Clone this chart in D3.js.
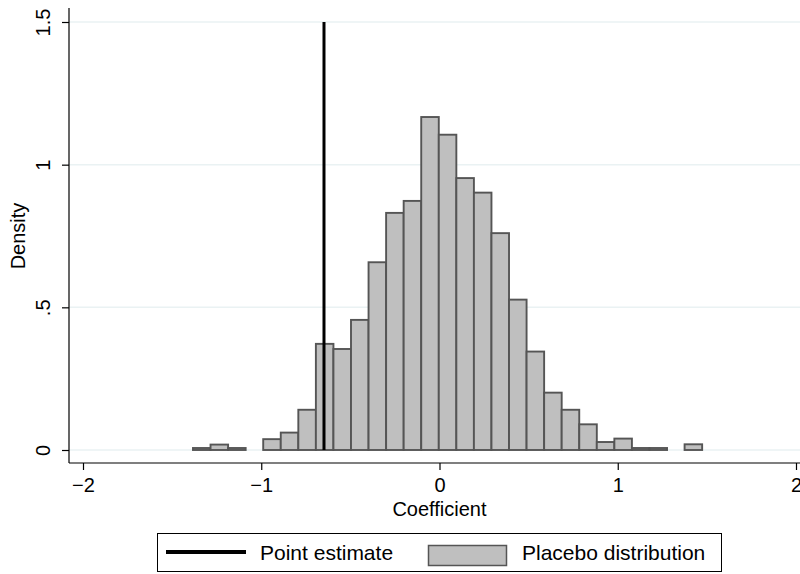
<!DOCTYPE html>
<html>
<head>
<meta charset="utf-8">
<script src="https://cdn.jsdelivr.net/npm/d3@7"></script>
<style>
  html, body { margin: 0; padding: 0; background: #fff; }
  svg { display: block; font-family: "Liberation Sans", Arial, Helvetica, sans-serif; }
</style>
</head>
<body>
<svg id="chart" width="800" height="574"></svg>
<script>
// ---- Data ----
const binLow = [-1.383, -1.2845, -1.186, -1.0875, -0.989, -0.8905, -0.792, -0.6935, -0.595, -0.4965,
                -0.398, -0.2995, -0.201, -0.1025, -0.004, 0.0945, 0.193, 0.2915, 0.39, 0.4885,
                0.587, 0.6855, 0.784, 0.8825, 0.981, 1.0795, 1.178, 1.2765, 1.375];
const binHigh = [-1.2845, -1.186, -1.0875, -0.989, -0.8905, -0.792, -0.6935, -0.595, -0.4965, -0.398,
                 -0.2995, -0.201, -0.1025, -0.004, 0.0945, 0.193, 0.2915, 0.39, 0.4885, 0.587,
                 0.6855, 0.784, 0.8825, 0.981, 1.0795, 1.178, 1.2765, 1.375, 1.4735];
const density = [0.007, 0.019, 0.007, 0, 0.038, 0.061, 0.141, 0.372, 0.354, 0.456,
                 0.658, 0.831, 0.873, 1.167, 1.105, 0.953, 0.902, 0.760, 0.527, 0.345,
                 0.201, 0.141, 0.090, 0.028, 0.040, 0.007, 0.007, 0, 0.020];
const pointEstimate = -0.648;
const xTicks = [-2, -1, 0, 1, 2];
const xTickLabels = ["\u22122", "\u22121", "0", "1", "2"];
const yTicks = [0, 0.5, 1, 1.5];
const yTickLabels = ["0", ".5", "1", "1.5"];
const xTitle = "Coefficient";
const yTitle = "Density";
const legendLabels = ["Point estimate", "Placebo distribution"];

// ---- Layout ----
const svg = d3.select("#chart");
const x = d3.scaleLinear().domain([-2, 2]).range([83, 796]);
const y = d3.scaleLinear().domain([0, 1.5]).range([450, 22]);
const axisLeftX = 69, axisBottomY = 463;

// grid lines
svg.append("g").selectAll("line").data(yTicks).join("line")
  .attr("x1", axisLeftX).attr("x2", 800)
  .attr("y1", d => y(d)).attr("y2", d => y(d))
  .attr("stroke", "#eaf2f3").attr("stroke-width", 1.5);

// bars
const bins = density.map((d, i) => ({lo: binLow[i], hi: binHigh[i], v: d})).filter(b => b.v > 0);
svg.append("g").selectAll("rect").data(bins).join("rect")
  .attr("x", d => x(d.lo))
  .attr("width", d => x(d.hi) - x(d.lo))
  .attr("y", d => y(d.v))
  .attr("height", d => y(0) - y(d.v))
  .attr("fill", "#bfbfbf")
  .attr("stroke", "#555555")
  .attr("stroke-width", 1.9);

// point estimate line
svg.append("line")
  .attr("x1", x(pointEstimate)).attr("x2", x(pointEstimate))
  .attr("y1", y(0)).attr("y2", y(1.5))
  .attr("stroke", "#000").attr("stroke-width", 3);

// y axis
const yAxis = d3.axisLeft(y).tickValues(yTicks).tickSize(7).tickFormat((d, i) => yTickLabels[i]);
const gy = svg.append("g").attr("transform", `translate(${axisLeftX},0)`).call(yAxis);
gy.select(".domain").attr("d", `M0,8V${axisBottomY}`).attr("stroke", "#000").attr("stroke-width", 1.2);
gy.selectAll(".tick line").attr("stroke", "#000").attr("stroke-width", 1.2);
gy.selectAll(".tick text")
  .attr("x", null).attr("dy", null)
  .attr("transform", "translate(-19,0) rotate(-90)")
  .attr("text-anchor", "middle")
  .attr("font-size", 20).attr("fill", "#000")
  .attr("font-family", "Liberation Sans, Arial, sans-serif");

// x axis
const xAxis = d3.axisBottom(x).tickValues(xTicks).tickSize(7).tickFormat((d, i) => xTickLabels[i]);
const gx = svg.append("g").attr("transform", `translate(0,${axisBottomY})`).call(xAxis);
gx.select(".domain").attr("d", `M${axisLeftX},0H800`).attr("stroke", "#000").attr("stroke-width", 1.2);
gx.selectAll(".tick line").attr("stroke", "#000").attr("stroke-width", 1.2);
gx.selectAll(".tick text")
  .attr("y", 29).attr("dy", null)
  .attr("font-size", 20).attr("fill", "#000")
  .attr("font-family", "Liberation Sans, Arial, sans-serif");

// axis titles
svg.append("text").attr("x", x(0)).attr("y", 516)
  .attr("text-anchor", "middle").attr("font-size", 20).text(xTitle);
svg.append("text").attr("transform", `translate(25,${y(0.75)}) rotate(-90)`)
  .attr("text-anchor", "middle").attr("font-size", 20).text(yTitle);

// legend
const lg = svg.append("g");
lg.append("rect").attr("x", 157.5).attr("y", 533.5).attr("width", 564).attr("height", 38)
  .attr("fill", "#fff").attr("stroke", "#000").attr("stroke-width", 1);
lg.append("line").attr("x1", 166).attr("x2", 246).attr("y1", 552).attr("y2", 552)
  .attr("stroke", "#000").attr("stroke-width", 4);
lg.append("text").attr("x", 260).attr("y", 560).attr("font-size", 21).text(legendLabels[0]);
lg.append("rect").attr("x", 428.5).attr("y", 545.5).attr("width", 78).attr("height", 20)
  .attr("fill", "#bfbfbf").attr("stroke", "#555555").attr("stroke-width", 1.5);
lg.append("text").attr("x", 522).attr("y", 560).attr("font-size", 21).text(legendLabels[1]);
</script>
</body>
</html>
